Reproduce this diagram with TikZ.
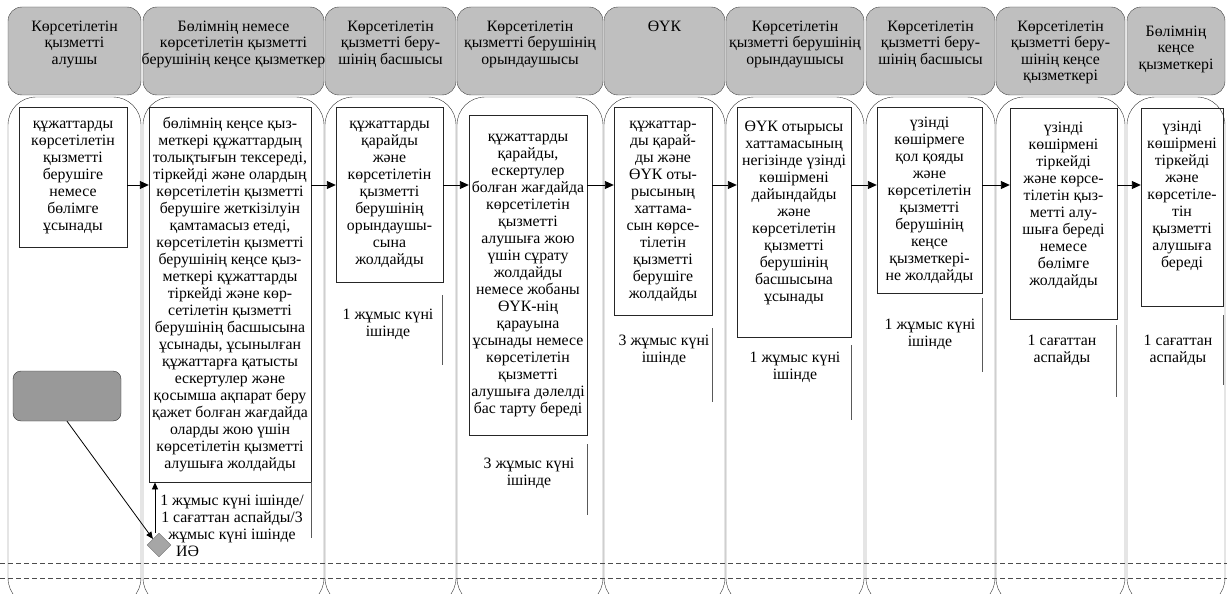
\documentclass[tikz,border=0pt]{standalone}
\usepackage{fontspec}
\setmainfont{Liberation Serif}
\usetikzlibrary{arrows.meta,shapes.geometric}

\begin{document}
\begin{tikzpicture}[x=1pt, y=-1pt, font=\fontsize{15.8}{17}\selectfont,
	lanehead/.style={draw=black!75, fill=gray!50, rounded corners=14pt},
	lanebody/.style={draw=black!80, rounded corners=28pt},
	headtext/.style={align=center, inner sep=0pt, anchor=north, font=\fontsize{15.8}{16.2}\selectfont},
	stepbox/.style={draw=black!85, align=center, inner sep=0pt, anchor=north},
	timetext/.style={align=center, inner sep=0pt},
	timebar/.style={draw=black!65},
	flow/.style={-{Triangle[length=9pt,width=8pt]}, line width=0.9pt},
	thin flow/.style={-{Triangle[length=7pt,width=6pt]}, line width=0.8pt}]
	\clip (0,0) rectangle (1227,594);
	% swim lanes
	\foreach \l/\r in {8/141, 143/324, 325/456, 457/603, 604/725, 726/864, 866/995, 996/1125, 1127/1225}{
		\draw[lanehead] (\l,7) rectangle (\r,95);
		\draw[lanebody] (\l,97) rectangle (\r,606);
	}
	\draw[dashed, draw=black!70, dash pattern=on 5pt off 3pt] (0,563) -- (1227,563);
	\draw[dashed, draw=black!70, dash pattern=on 5pt off 3pt] (0,578) -- (1227,578);

	% lane titles
	\node[headtext] (h1) at (74.5,21) {Көрсетілетін\\қызметті\\алушы};
	\node[headtext] (h2) at (233.5,21) {Бөлімнің немесе\\көрсетілетін қызметті\\берушінің кеңсе қызметкер};
	\node[headtext] (h3) at (390.5,21) {Көрсетілетін\\қызметті беру-\\шінің басшысы};
	\node[headtext] (h4) at (530,21) {Көрсетілетін\\қызметті берушінің\\орындаушысы};
	\node[headtext] (h5) at (664.5,21) {ӨҮК};
	\node[headtext] (h6) at (795,21) {Көрсетілетін\\қызметті берушінің\\орындаушысы};
	\node[headtext] (h7) at (930.5,21) {Көрсетілетін\\қызметті беру-\\шінің басшысы};
	\node[headtext] (h8) at (1060.5,21) {Көрсетілетін\\қызметті беру-\\шінің кеңсе\\қызметкері};
	\node[headtext] (h9) at (1176,26) {Бөлімнің\\кеңсе\\қызметкері};

	% steps
	\node[stepbox, minimum width=108, minimum height=140] (b1) at (73,107) {құжаттарды\\көрсетілетін\\қызметті\\берушіге\\немесе\\бөлімге\\ұсынады};
	\node[stepbox, minimum width=162, minimum height=375] (b2) at (230,107) {бөлімнің кеңсе қыз-\\меткері құжаттардың\\толықтығын тексереді,\\тіркейді және олардың\\көрсетілетін қызметті\\берушіге жеткізілуін\\қамтамасыз етеді,\\көрсетілетін қызметті\\берушінің кеңсе қыз-\\меткері құжаттарды\\тіркейді және көр-\\сетілетін қызметті\\берушінің басшысына\\ұсынады, ұсынылған\\құжаттарға қатысты\\ескертулер және\\қосымша ақпарат беру\\қажет болған жағдайда\\оларды жою үшін\\көрсетілетін қызметті\\алушыға жолдайды};
	\node[stepbox, minimum width=107, minimum height=175] (b3) at (389.5,107) {құжаттарды\\қарайды\\және\\көрсетілетін\\қызметті\\берушінің\\орындаушы-\\сына\\жолдайды};
	\node[stepbox, minimum width=118, minimum height=320] (b4) at (528,115) {құжаттарды\\қарайды,\\ескертулер\\болған жағдайда\\көрсетілетін\\қызметті\\алушыға жою\\үшін сұрату\\жолдайды\\немесе жобаны\\ӨҮК-нің\\қарауына\\ұсынады немесе\\көрсетілетін\\қызметті\\алушыға дәлелді\\бас тарту береді};
	\node[stepbox, minimum width=98, minimum height=208] (b5) at (663,107) {құжаттар-\\ды қарай-\\ды және\\ӨҮК оты-\\рысының\\хаттама-\\сын көрсе-\\тілетін\\қызметті\\берушіге\\жолдайды};
	\node[stepbox, minimum width=114, minimum height=230] (b6) at (794,107) {ӨҮК отырысы\\хаттамасының\\негізінде үзінді\\көшірмені\\дайындайды\\және\\көрсетілетін\\қызметті\\берушінің\\басшысына\\ұсынады\\[5pt]};
	\node[stepbox, minimum width=105, minimum height=186] (b7) at (929.5,107) {үзінді\\көшірмеге\\қол қояды\\және\\көрсетілетін\\қызметті\\берушінің\\кеңсе\\қызметкері-\\не жолдайды};
	\node[stepbox, minimum width=107, minimum height=211] (b8) at (1063.5,108) {үзінді\\көшірмені\\тіркейді\\және көрсе-\\тілетін қыз-\\метті алу-\\шыға береді\\немесе\\бөлімге\\жолдайды\\[3pt]};
	\node[stepbox, minimum width=82, minimum height=198] (b9) at (1182,108) {үзінді\\көшірмені\\тіркейді\\және\\көрсетіле-\\тін\\қызметті\\алушыға\\береді\\[9pt]};

	% time limits
	\node[timetext] (t2) at (232,519) {1 жұмыс күні ішінде/\\1 сағаттан аспайды/3\\жұмыс күні ішінде};
	\node[timetext] (t3) at (388,324) {1 жұмыс күні\\ішінде};
	\node[timetext] (t4) at (529,473) {3 жұмыс күні\\ішінде};
	\node[timetext] (t5) at (664,350) {3 жұмыс күні\\ішінде};
	\node[timetext] (t6) at (795,367) {1 жұмыс күні\\ішінде};
	\node[timetext] (t7) at (930,334) {1 жұмыс күні\\ішінде};
	\node[timetext] (t8) at (1062,350) {1 сағаттан\\аспайды};
	\node[timetext] (t9) at (1178,350) {1 сағаттан\\аспайды};
	\draw[timebar] (311,482) -- (311,538);
	\draw[timebar] (442,295) -- (442,365);
	\draw[timebar] (587,444) -- (587,515);
	\draw[timebar] (712,328) -- (712,402);
	\draw[timebar] (851,345) -- (851,420);
	\draw[timebar] (982,298) -- (982,372);
	\draw[timebar] (1116,325) -- (1116,397);
	\draw[timebar] (1223,315) -- (1223,385);

	% start event and decision
	\node[draw=black!80, fill=gray!80, rounded corners=8pt, minimum width=108, minimum height=50] (start) at (67,396) {};
	\node[diamond, draw=black!55, fill=gray!70, minimum width=24, minimum height=24, inner sep=0pt] (dec) at (159,545) {};
	\node[anchor=west, inner sep=0pt] (yes) at (176,551) {ИӘ};

	\coordinate (ay) at (0,185);
	\draw[thin flow] (start.south) -- (dec.north west);
	\draw[thin flow] (dec.north -| 155,0) -- (b2.south -| 155,0);
	\draw[flow] (b1.east |- ay) -- (b2.west |- ay);
	\draw[flow] (b2.east |- ay) -- (b3.west |- ay);
	\draw[flow] (b3.east |- ay) -- (b4.west |- ay);
	\draw[flow] (b4.east |- ay) -- (b5.west |- ay);
	\draw[flow] (b5.east |- ay) -- (b6.west |- ay);
	\draw[flow] (b6.east |- ay) -- (b7.west |- ay);
	\draw[flow] (b7.east |- ay) -- (b8.west |- ay);
	\draw[flow] (b8.east |- ay) -- (b9.west |- ay);
\end{tikzpicture}
\end{document}
